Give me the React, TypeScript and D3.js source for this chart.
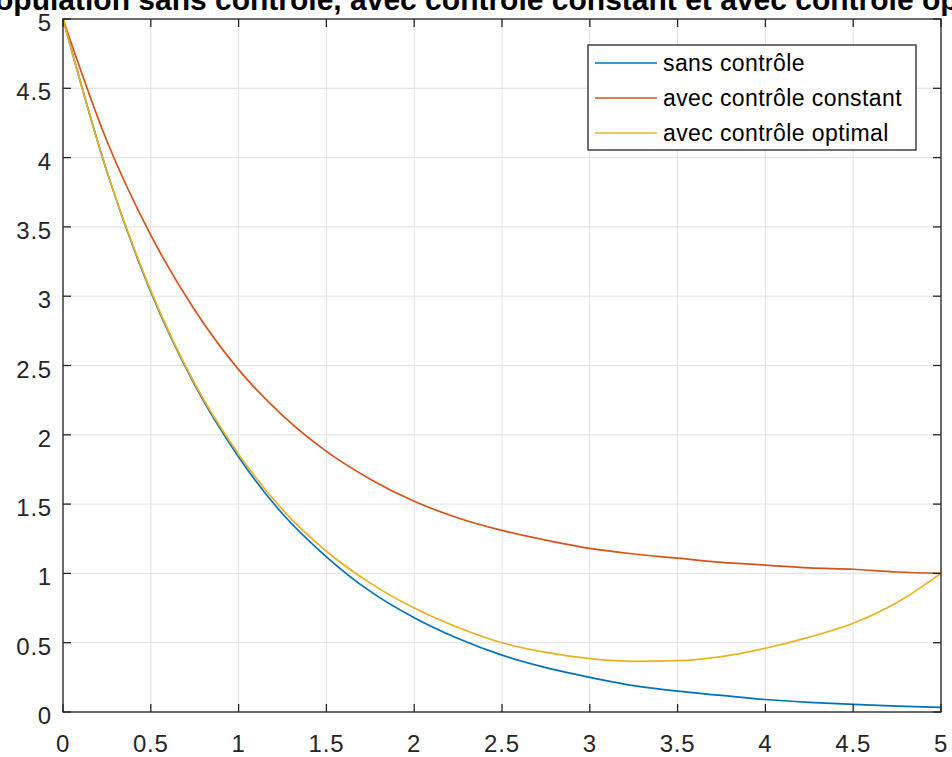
import React from "react";
import * as d3 from "d3";

const TITLE = "Population sans contrôle, avec contrôle constant et avec contrôle optimal";
const timeValues = [0, 0.25, 0.5, 0.75, 1, 1.25, 1.5, 1.75, 2, 2.25, 2.5, 2.75, 3, 3.25, 3.5, 3.75, 4, 4.25, 4.5, 4.75, 5];
const sansControle = [5, 3.9, 3.03, 2.36, 1.84, 1.43, 1.12, 0.87, 0.68, 0.53, 0.41, 0.32, 0.25, 0.19, 0.15, 0.12, 0.09, 0.07, 0.055, 0.043, 0.034];
const controleConstant = [5, 4.12, 3.44, 2.9, 2.47, 2.14, 1.88, 1.68, 1.52, 1.4, 1.31, 1.24, 1.18, 1.14, 1.11, 1.08, 1.06, 1.04, 1.03, 1.01, 1.0];
const controleOptimal = [5, 3.9, 3.04, 2.37, 1.86, 1.46, 1.16, 0.93, 0.75, 0.61, 0.5, 0.43, 0.385, 0.365, 0.37, 0.4, 0.46, 0.54, 0.64, 0.79, 1.0];
const seriesNames = ["sans contrôle", "avec contrôle constant", "avec contrôle optimal"];
const seriesColors = ["#0072BD", "#D95319", "#EDB120"];
const xTicks = [0, 0.5, 1, 1.5, 2, 2.5, 3, 3.5, 4, 4.5, 5];
const yTicks = [0, 0.5, 1, 1.5, 2, 2.5, 3, 3.5, 4, 4.5, 5];

export default function App() {
  const W = 952, H = 757;
  const L = 63, R = 941, T = 19, B = 712;
  const x = d3.scaleLinear().domain([0, 5]).range([L, R]);
  const y = d3.scaleLinear().domain([0, 5]).range([B, T]);
  const series = [sansControle, controleConstant, controleOptimal];
  const line = d3.line<number>().x((_, i) => x(timeValues[i])).y((d) => y(d)).curve(d3.curveMonotoneX);
  const font = "'Liberation Sans', Arial, Helvetica, sans-serif";
  const axisColor = "#262626";
  const tickLen = 8;
  const legX = 588, legY = 45, legW = 328, legH = 105;
  return (
    <svg width={W} height={H} style={{ position: "absolute", left: 0, top: 0, background: "#fff" }} fontFamily={font}>
      <rect x={0} y={0} width={W} height={H} fill="#fff" />
      <rect x={L} y={T} width={R - L} height={B - T} fill="#fff" />
      {xTicks.map((t) => (
        <line key={"gx" + t} x1={x(t)} x2={x(t)} y1={T} y2={B} stroke="#e2e2e2" strokeWidth={1} />
      ))}
      {yTicks.map((t) => (
        <line key={"gy" + t} x1={L} x2={R} y1={y(t)} y2={y(t)} stroke="#e2e2e2" strokeWidth={1} />
      ))}
      {series.map((s, i) => (
        <path key={"s" + i} d={line(s) || ""} fill="none" stroke={seriesColors[i]} strokeWidth={1.7} />
      ))}
      <rect x={L} y={T} width={R - L} height={B - T} fill="none" stroke={axisColor} strokeWidth={1.3} />
      {xTicks.map((t) => (
        <g key={"tx" + t}>
          <line x1={x(t)} x2={x(t)} y1={B} y2={B - tickLen} stroke={axisColor} strokeWidth={1.3} />
          <line x1={x(t)} x2={x(t)} y1={T} y2={T + tickLen} stroke={axisColor} strokeWidth={1.3} />
          <text x={x(t)} y={752} textAnchor="middle" fontSize={24} letterSpacing={0.8} fill={axisColor}>{String(t)}</text>
        </g>
      ))}
      {yTicks.map((t) => (
        <g key={"ty" + t}>
          <line x1={L} x2={L + tickLen} y1={y(t)} y2={y(t)} stroke={axisColor} strokeWidth={1.3} />
          <line x1={R} x2={R - tickLen} y1={y(t)} y2={y(t)} stroke={axisColor} strokeWidth={1.3} />
          <text x={52} y={y(t) + 12} textAnchor="end" fontSize={24} letterSpacing={0.8} fill={axisColor}>{String(t)}</text>
        </g>
      ))}
      <text x={-25} y={10} fontSize={30} fontWeight="bold" fill="#000">{TITLE}</text>
      <rect x={legX} y={legY} width={legW} height={legH} fill="#fff" stroke={axisColor} strokeWidth={1.3} />
      {seriesNames.map((n, i) => (
        <g key={"lg" + i}>
          <line x1={595} x2={657} y1={63 + i * 35} y2={63 + i * 35} stroke={seriesColors[i]} strokeWidth={1.7} />
          <text x={663} y={63 + i * 35 + 8} fontSize={23} letterSpacing={0.4} fill="#000">{n}</text>
        </g>
      ))}
    </svg>
  );
}
